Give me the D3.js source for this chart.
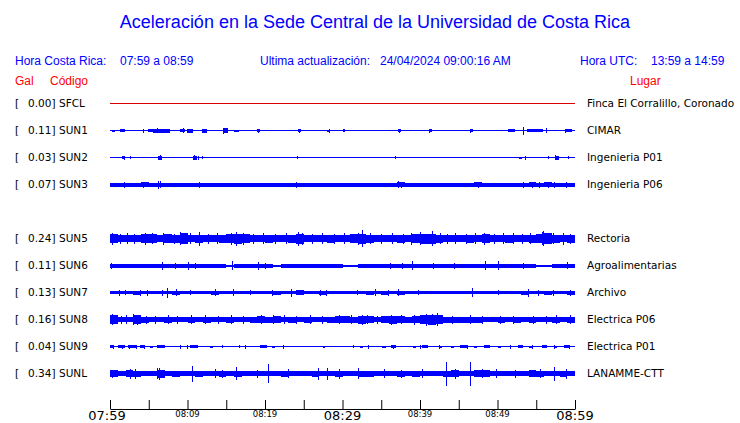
<!DOCTYPE html>
<html>
<head>
<meta charset="utf-8">
<script src="https://cdn.jsdelivr.net/npm/d3@7"></script>
<style>
  body { margin: 0; background: #fff; }
  svg text { font-family: "DejaVu Sans", sans-serif; }
  .hdr { font-family: "Liberation Sans", Arial, sans-serif !important; }
</style>
</head>
<body>
<div id="chart"></div>
<script>
// rows of the plot, SUN4 has no trace (empty slot)
const rowOrder = ["SFCL", "SUN1", "SUN2", "SUN3", "SUN4", "SUN5", "SUN6", "SUN7", "SUN8", "SUN9", "SUNL"];
const codes = ["SFCL", "SUN1", "SUN2", "SUN3", "SUN5", "SUN6", "SUN7", "SUN8", "SUN9", "SUNL"];
const gal = [0.00, 0.11, 0.03, 0.07, 0.24, 0.11, 0.13, 0.16, 0.04, 0.34];
const places = ["Finca El Corralillo, Coronado", "CIMAR", "Ingenieria P01", "Ingenieria P06", "Rectoria",
  "Agroalimentarias", "Archivo", "Electrica P06", "Electrica P01", "LANAMME-CTT"];
const tickLabels = ["07:59", "08:09", "08:19", "08:29", "08:39", "08:49", "08:59"];
const majorLabels = ["07:59", "08:29", "08:59"];

// background envelope (half amplitude) per minute
const envSFCL = [0,0,0,0,0,0,0,0,0,0, 0,0,0,0,0,0,0,0,0,0, 0,0,0,0,0,0,0,0,0,0,
  0,0,0,0,0,0,0,0,0,0, 0,0,0,0,0,0,0,0,0,0, 0,0,0,0,0,0,0,0,0,0];
const envSUN1 = [0.5,0.5,0.5,0.5,0.5,0.5,0.5,0.5,0.5,0.5, 0.5,0.5,0.5,0.5,0.5,0.5,0.5,0.5,0.5,0.5,
  0.5,0.5,0.5,0.5,0.5,0.5,0.5,0.5,0.5,0.5, 0.5,0.5,0.5,0.5,0.5,0.5,0.5,0.5,0.5,0.5,
  0.5,0.5,0.5,0.5,0.5,0.5,0.5,0.5,0.5,0.5, 0.5,0.5,0.5,0.5,0.5,0.5,0.5,0.5,0.5,0.5];
const envSUN2 = envSUN1.slice();
const envSUN3 = [2,2,2,2,2.5,2,2,2,2,2, 2,2,2,2,2,2,2,2,2,2, 2,2,2,2,2,2,2,2,2,2,
  2,2,2,2,2,2,2,2.5,2,2, 2,2,2,2,2,2,2,2.5,2,2, 2,2,2,2,2.5,2,2.5,2,2,2];
const envSUN5 = [4.5,3.5,3.5,3.5,4.5,4.5,3.5,4.5,4,5.5, 3.5,4,3.5,3.5,4,4.5,5,4.5,3.5,3.5,
  4,3.5,3.5,4,5,3.5,3.5,3.5,4,3.5, 3.5,4.5,5,4,3.5,3.5,3.5,4,3.5,4.5,
  5,5,4,3.5,3.5,3.5,4,3.5,4.5,3.5, 3.5,4,3.5,3.5,4,4.5,5.5,4,3.5,4];
const envSUN6 = [2,2,2,2,2,2,2,2,2,2, 2,2,2,2,2,1,2,2,2,2, 2,1,2,2,2,2,2,2,2,2,
  1,1,2,2,2,2,2,2,2,2, 2,2,2,2,2,2,2,2,2,2, 2,2,2,2,2,1,1,2,2,2];
const envSUN7 = [1.5,1.5,1.5,2,1.5,1.5,1.5,1.5,2,1.5, 1.5,1.5,1.5,2,1.5,1.5,1.5,1.5,1.5,1.5,
  1.5,2,1.5,1.5,2.5,1.5,1.5,2,1.5,1.5, 1.5,1.5,1.5,2,1.5,2,1.5,2,1.5,1.5,
  1.5,1.5,1.5,1.5,1.5,1.5,1.5,1.5,1.5,1.5, 1.5,1.5,1.5,2,1.5,1.5,2,1.5,1.5,2];
const envSUN8 = [4.5,2.5,2.5,4.5,3,2.5,2.5,3,2.5,2.5, 3,2.5,3,2.5,2.5,3,2.5,2.5,3,3.5,
  3,3.5,2.5,3,2.5,3,2.5,2.5,3,3.5, 3.5,3,4,3.5,2.5,3.5,4,3.5,3,3.5,
  4.5,5,4.5,3,3,3,3,3,2.5,2.5, 3,2.5,3,2.5,3,2.5,2.5,3,2.5,3];
const envSUN9 = envSUN1.slice();
const envSUNL = [3.5,2.5,3.5,3,2.5,2.5,4,2.5,3,2.5, 2.5,3,2.5,2.5,3,2.5,3,2.5,2.5,2.5,
  2.5,2.5,3,2.5,2.5,2.5,3,2.5,2.5,3, 2.5,2.5,3,3,2.5,2.5,2.5,3,2.5,3,
  2.5,2.5,2.5,3,3.5,2.5,2.5,3.5,3.5,2.5, 2.5,2.5,2.5,2.5,3.5,3,2.5,2.5,3,2.5];

// short bursts [start minute, end minute, half amplitude]
const bstSUN1 = [[0.3,0.6,1],[1.3,1.9,1.5],[4.9,5.5,1.5],[5.5,7.7,2],[9.0,9.7,1.5],[9.9,10.7,2],[11.9,12.5,2],
  [14.6,15.2,2.5],[16.0,16.6,1],[19.0,19.4,1.5],[24.3,24.7,1.5],[28.0,28.4,1],[30,30.3,1.5],[37.2,37.6,1.5],
  [41.1,41.5,1.5],[46.4,46.8,1.5],[51.4,52.3,1.5],[53.8,55.9,1.5],[58.7,59.6,1.5]];
const bstSUN2 = [[1.6,1.9,1.5],[6.2,6.7,2],[10.7,11.2,2],[52.8,53.1,1],[57.4,57.9,2]];
const bstSUN9 = [[0,0.4,1.5],[1.0,1.9,1.5],[2.3,3.5,1.5],[3.9,4.5,1.5],[5.2,5.5,1],[6.2,7.1,1.5],[10.3,11.4,1.5],
  [12.9,13.3,1],[19.4,20.3,1.5],[20.9,21.3,1],[27.5,27.7,1],[32.2,32.6,1],[35.1,35.6,1],[36.2,36.9,1.5],
  [39.1,39.5,1],[40.2,41.0,1.5],[42.4,42.9,1],[44.0,44.4,1],[45.2,46.0,1.5],[47.0,47.4,1],[48.3,49.0,1.5],
  [50.1,50.5,1],[52.6,53.3,1.5],[54.0,54.4,1],[55.8,56.4,1.5],[57.3,57.7,1],[58.6,59.3,1.5]];

// isolated peaks [minute, half amplitude]
const spkSUN1 = [[4.3,2],[6.1,2.5],[7.3,2],[9.4,2.5],[12.2,2],[14.6,3],[19.1,2],[24.4,2],[28.3,2],
  [37.3,2],[41.2,2],[46.5,2],[53.3,4],[56.2,2.5],[58.7,2]];
const spkSUN2 = [[1.8,2],[2.6,1.5],[6.5,2.5],[10.9,2.5],[11.4,2],[11.9,1.5],[24.1,1.5],[36.8,1.5],
  [53.5,2],[56.5,1.5],[57.4,2.5],[59.1,1.5]];
const spkSUN3 = [[1.8,3],[4.2,3],[6.2,4],[6.5,3.5],[11.5,3],[24,3],[37.1,3.5],[37.6,3],[47.5,3],
  [53.3,3],[54.5,3],[55.4,3],[56.5,3],[57.3,3],[58.8,3]];
const spkSUN5 = [[0.2,6],[1.3,5],[2.2,5.5],[3.1,5],[4.5,6],[5.4,5.5],[6.9,6],[8.2,5],[9.0,6.5],[10.3,5.5],
  [11.5,7],[12.6,5],[13.8,5.5],[15.6,6],[16.3,7],[17.2,6],[18.5,5],[19.8,5.5],[21.3,5],[22.7,5.5],[24.2,7],
  [24.8,6],[26.1,5],[27.4,5.5],[28.9,5],[30.2,5.5],[32.0,6],[32.5,8.5],[33.6,5.5],[35.0,5],[36.4,5.5],
  [37.8,5],[38.8,6],[40.0,6.5],[41.5,7.5],[42.6,5.5],[43.5,5],[44.5,5.5],[45.9,5],[47.1,5.5],[48.3,6],
  [49.5,5],[50.7,5.5],[52.0,5.5],[53.1,5],[54.2,5.5],[55.7,6.5],[55.9,7.5],[57.2,5.5],[58.5,6],[59.4,5]];
const spkSUN6 = [[0.1,3],[6.7,4],[8.4,3],[10.1,4],[11,3],[15.7,4.5],[19.1,4],[20,3],[36.1,3],[37.7,3],
  [39,4.5],[41.7,3],[44.4,3],[48.4,4.5],[50.1,4.5],[53.3,3],[59,3.5]];
const spkSUN7 = [[1.2,3],[1.9,2.5],[3.9,3],[4.8,3],[6.7,3],[7.4,5],[8.5,3.5],[10.3,2.5],[13.5,3.5],
  [15.9,3.5],[18.1,2.5],[20.9,3],[23.4,4],[27.1,3],[27.9,3],[31.9,2.5],[34.2,3.5],[35.9,3],[37.2,3.5],
  [39.7,2.5],[46.7,4.5],[50.1,2.5],[53.9,4],[55.2,3],[57.2,3],[59.4,3]];
const spkSUN8 = [[0.3,5.5],[1.4,4],[2.1,4.5],[3.0,5.5],[3.5,5],[4.6,4],[5.8,4],[7.5,4.5],[8.7,4],[10.5,4.5],
  [12.3,4.5],[13.9,4],[15.6,4.5],[17.1,4],[19.5,4.5],[21,4.5],[22.4,4.5],[24.0,4],[25.8,4.5],[27.3,4],
  [29.5,4.5],[31.1,4.5],[32.5,5],[33.2,4.5],[34.5,4],[36.2,5],[37.6,4.5],[39.2,5],[40.8,6],[41.5,5.5],
  [42.2,6.5],[44.1,4],[46.5,4.5],[48.0,4],[50.3,4],[52,4],[54.6,4],[56.2,4],[57.5,4.5],[59.3,4.5]];
const spkSUN9 = [[0.4,2],[1.5,2],[2.5,2],[3.3,2],[4.4,2],[6.1,1.5],[9.0,2],[9.9,2],[14.4,1.5],[16.6,1.5],
  [17.4,2],[19.6,1.5],[22.3,2],[31.3,1.5],[33.3,2],[36.5,2],[40,2],[42.5,2],[46,2],[51.6,2],[54.5,2],[57.3,2],[59.2,2]];
const spkSUNL = [[0.3,4],[2.6,5],[3.2,5],[6.0,5.5],[6.3,6],[7.0,4],[10.6,8],[13.5,4.5],[14.5,4],[16.3,6.5],
  [19.0,4],[20.4,9.5],[23,4.5],[26.8,6],[28,6],[29.5,5],[32,5.5],[35.4,4.5],[37.6,4],[40.3,4.5],[43.4,12],
  [44.5,5],[46.5,12],[48,4.5],[49.8,4.5],[52.3,4],[55.5,4.5],[57.3,7],[58.9,5]];

const envs = [envSFCL, envSUN1, envSUN2, envSUN3, envSUN5, envSUN6, envSUN7, envSUN8, envSUN9, envSUNL];
const bursts = [[], bstSUN1, bstSUN2, [], [], [], [], [], bstSUN9, []];
const spikes = [[], spkSUN1, spkSUN2, spkSUN3, spkSUN5, spkSUN6, spkSUN7, spkSUN8, spkSUN9, spkSUNL];

const width = 740, height = 423;
const blue = "#0000ff", red = "#ff0000";

const svg = d3.select("#chart").append("svg")
  .attr("width", width)
  .attr("height", height);

const parse = d3.timeParse("%H:%M");
const t0 = parse(tickLabels[0]);
const tEnd = parse(tickLabels[tickLabels.length - 1]);
const atMin = m => new Date(+t0 + m * 60000);

const x = d3.scaleTime().domain([t0, tEnd]).range([110, 575]);
const row = d3.scalePoint().domain(rowOrder).range([103, 373]);
// amplitude -> vertical offset from the trace centre (up is negative)
const amp = d3.scaleLinear().domain([-13.5, 13.5]).range([13.5, -13.5]);

// Title and header
svg.append("text").attr("class", "hdr")
  .attr("x", 375).attr("y", 28)
  .attr("text-anchor", "middle")
  .attr("font-size", 18).attr("fill", blue)
  .text("Aceleración en la Sede Central de la Universidad de Costa Rica");

const header = [
  ["Hora Costa Rica:", 15], ["07:59 a 08:59", 120],
  ["Ultima actualización:", 260], ["24/04/2024 09:00:16 AM", 380],
  ["Hora UTC:", 580], ["13:59 a 14:59", 651]
];
svg.selectAll(".h1").data(header).enter().append("text")
  .attr("class", "hdr")
  .attr("x", d => d[1]).attr("y", 65)
  .attr("font-size", 12).attr("fill", blue)
  .text(d => d[0]);

[["Gal", 15], ["Código", 50], ["Lugar", 630]].forEach(d => {
  svg.append("text").attr("class", "hdr")
    .attr("x", d[1]).attr("y", 85)
    .attr("font-size", 12).attr("fill", red)
    .text(d[0]);
});

// Traces
codes.forEach((code, i) => {
  const cy = row(code) + 0.5;
  const g = svg.append("g").attr("shape-rendering", "crispEdges");
  const env = envs[i];

  if (d3.max(env) === 0) {
    g.append("line")
      .attr("x1", x(t0)).attr("x2", x(tEnd))
      .attr("y1", cy).attr("y2", cy)
      .attr("stroke", "#dd0000").attr("stroke-width", 1);
  } else {
    const pts = env.map((a, m) => ({m, a}));
    pts.push({m: env.length, a: env[env.length - 1]});
    const area = d3.area()
      .x(d => x(atMin(d.m)))
      .y0(d => cy + amp(-d.a))
      .y1(d => cy + amp(d.a))
      .curve(d3.curveStepAfter);
    g.append("path")
      .attr("d", area(pts))
      .attr("fill", blue);
    g.selectAll("rect").data(bursts[i]).enter().append("rect")
      .attr("x", d => x(atMin(d[0])))
      .attr("width", d => Math.max(1, x(atMin(d[1])) - x(atMin(d[0]))))
      .attr("y", d => cy + amp(d[2]))
      .attr("height", d => amp(-d[2]) - amp(d[2]))
      .attr("fill", blue);
    g.selectAll("line").data(spikes[i]).enter().append("line")
      .attr("x1", d => Math.round(x(atMin(d[0]))) + 0.5)
      .attr("x2", d => Math.round(x(atMin(d[0]))) + 0.5)
      .attr("y1", d => cy + amp(d[1]))
      .attr("y2", d => cy + amp(-d[1]))
      .attr("stroke", blue).attr("stroke-width", 1);
  }

  const ty = row(code) + 4;
  svg.append("text").attr("x", 15).attr("y", ty).attr("font-size", 10.5).text("[");
  svg.append("text").attr("x", 55.5).attr("y", ty).attr("font-size", 10.5)
    .attr("text-anchor", "end").text(d3.format(".2f")(gal[i]) + "]");
  svg.append("text").attr("x", 59).attr("y", ty).attr("font-size", 10.5).text(code);
  svg.append("text").attr("x", 587).attr("y", ty).attr("font-size", 10.5).text(places[i]);
});

// Time axis
const tickTimes = d3.range(0, 61, 5).map(atMin);
svg.append("g")
  .attr("transform", "translate(0,409)")
  .call(d3.axisBottom(x).tickValues(tickTimes).tickSize(-9).tickSizeOuter(0).tickFormat(""))
  .call(g => g.selectAll("path, line").attr("stroke", "#000"));

svg.selectAll(".tl").data(tickLabels).enter().append("text")
  .attr("x", d => x(parse(d)) - (d === tickLabels[0] ? 3 : 0))
  .attr("y", d => majorLabels.includes(d) ? 420 : 417)
  .attr("text-anchor", "middle")
  .attr("font-size", d => majorLabels.includes(d) ? 13 : 8.5)
  .attr("fill", "#000")
  .text(d => d);
</script>
</body>
</html>
